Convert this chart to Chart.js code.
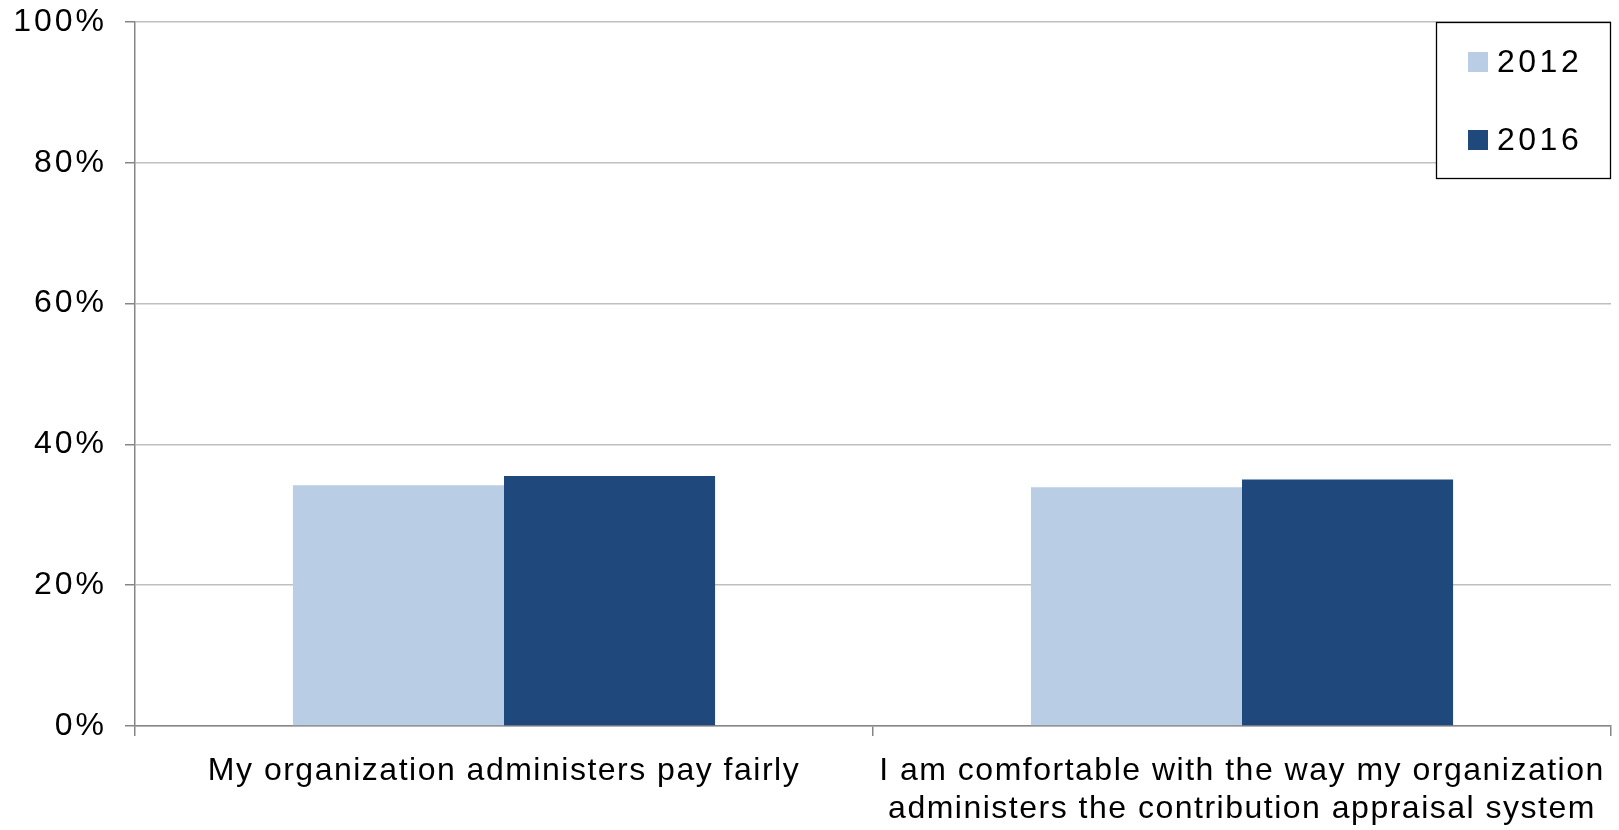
<!DOCTYPE html>
<html><head><meta charset="utf-8">
<script src="https://cdn.jsdelivr.net/npm/chart.js@4.4.1/dist/chart.umd.min.js"></script>
<style>html,body{margin:0;padding:0;background:#fff}#wrap{width:1619px;height:830px}</style>
</head><body><div id="wrap"><canvas id="c" width="1619" height="830"></canvas></div>
<script>
const categories = [
  "My organization administers pay fairly",
  ["I am comfortable with the way my organization", "administers the contribution appraisal system"]
];
const seriesNames = ["2012", "2016"];
const values2012 = [34.2, 33.9];
const values2016 = [35.5, 35.0];
const yTicks = [0, 20, 40, 60, 80, 100];
const colors = ["#B9CDE5", "#1F497D"];

const labelSpacing = { x: '1.5px', y: '3px' };

const spacingPlugin = {
  id: 'spacing',
  afterUpdate(chart) {
    Object.keys(labelSpacing).forEach(id => {
      const s = chart.scales[id];
      if (!s || s._spPatched) return;
      const orig = Object.getPrototypeOf(s).drawLabels;
      s.drawLabels = function (area) {
        const c = this.ctx;
        const prev = c.letterSpacing;
        c.letterSpacing = labelSpacing[id];
        orig.call(this, area);
        c.letterSpacing = prev || '0px';
      };
      s._spPatched = true;
    });
  }
};

const legendBox = {
  id: 'legendBox',
  afterDraw(chart) {
    const ctx = chart.ctx;
    const x0 = 1436, y0 = 22, w = 174, h = 156;
    ctx.save();
    ctx.fillStyle = '#fff';
    ctx.fillRect(x0, y0, w, h);
    ctx.strokeStyle = '#000';
    ctx.lineWidth = 1.3;
    ctx.strokeRect(x0 + 0.5, y0 + 0.5, w, h);
    chart.data.datasets.forEach((ds, i) => {
      const cy = 62 + i * 78;
      ctx.fillStyle = ds.backgroundColor;
      ctx.fillRect(1468, cy - 10, 20, 20);
      ctx.fillStyle = '#000';
      ctx.font = '32px "Liberation Sans"';
      ctx.letterSpacing = '3.5px';
      ctx.textBaseline = 'middle';
      ctx.textAlign = 'left';
      ctx.fillText(ds.label, 1497, cy + 1);
    });
    ctx.restore();
  }
};

new Chart(document.getElementById('c'), {
  type: 'bar',
  data: {
    labels: categories,
    datasets: [
      { label: seriesNames[0], data: values2012, backgroundColor: colors[0], barPercentage: 1, categoryPercentage: 0.572 },
      { label: seriesNames[1], data: values2016, backgroundColor: colors[1], barPercentage: 1, categoryPercentage: 0.572 }
    ]
  },
  options: {
    responsive: false,
    animation: false,
    layout: { padding: { left: 0, right: 8, top: 22, bottom: 0 } },
    plugins: { legend: { display: false }, tooltip: { enabled: false } },
    scales: {
      x: {
        grid: { offset: true, drawOnChartArea: false, drawTicks: true, tickLength: 10, color: '#868686', lineWidth: 1.5 },
        border: { color: '#868686', width: 1.5 },
        ticks: { color: '#000', font: { family: '"Liberation Sans"', size: 32, lineHeight: 1.2 }, padding: 16, maxRotation: 0, autoSkip: false },
        afterFit(s) { s.height = 104; s.paddingLeft = 0; s.paddingRight = 0; }
      },
      y: {
        min: 0, max: 100,
        afterBuildTicks(s) { s.ticks = yTicks.map(v => ({ value: v })); },
        grid: { color: '#BFBFBF', lineWidth: 1.5, tickLength: 10, tickColor: '#868686' },
        border: { color: '#868686', width: 1.5 },
        ticks: { color: '#000', font: { family: '"Liberation Sans"', size: 32 }, padding: 18, callback: v => v + '%' },
        afterFit(s) { s.width = 135; s.paddingTop = 0; s.paddingBottom = 0; }
      }
    }
  },
  plugins: [spacingPlugin, legendBox]
});
</script>
</body></html>
